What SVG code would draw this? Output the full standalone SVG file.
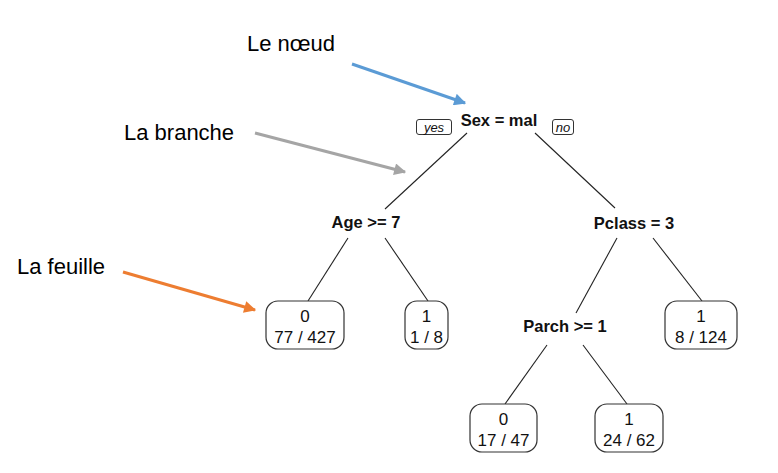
<svg xmlns="http://www.w3.org/2000/svg" width="778" height="473" viewBox="0 0 778 473">
<style>
.lbl{font-family:"Liberation Sans",Arial,sans-serif;font-size:22px;fill:#000}
.split{font-family:"Liberation Sans",Arial,sans-serif;font-size:16.5px;font-weight:bold;fill:#111;text-anchor:middle}
.leaf text{font-family:"Liberation Sans",Arial,sans-serif;font-size:17px;fill:#111;text-anchor:middle}
.leaf rect{fill:#fff;stroke:#333;stroke-width:1.2}
.yn rect{fill:#fff;stroke:#333;stroke-width:1}
.yn text{font-family:"Liberation Sans",Arial,sans-serif;font-size:13px;font-style:italic;fill:#111;text-anchor:middle}
.edge{stroke:#222;stroke-width:1.1;fill:none}
.ann{stroke-width:3;fill:none}
</style>
<defs>
<marker id="mBlue" viewBox="0 0 10 10" refX="9" refY="5" markerWidth="4.5" markerHeight="4" orient="auto"><path d="M0,0 L10,5 L0,10 z" fill="#5B9BD5"/></marker>
<marker id="mGray" viewBox="0 0 10 10" refX="9" refY="5" markerWidth="4.5" markerHeight="4" orient="auto"><path d="M0,0 L10,5 L0,10 z" fill="#A5A5A5"/></marker>
<marker id="mOrange" viewBox="0 0 10 10" refX="9" refY="5" markerWidth="4.5" markerHeight="4" orient="auto"><path d="M0,0 L10,5 L0,10 z" fill="#ED7D31"/></marker>
</defs>
<rect width="778" height="473" fill="#fff"/>

<g id="annotations">
<text class="lbl" x="247" y="51">Le nœud</text>
<text class="lbl" x="124" y="140">La branche</text>
<text class="lbl" x="17" y="274">La feuille</text>
<line class="ann" x1="352" y1="64" x2="465" y2="103" stroke="#5B9BD5" marker-end="url(#mBlue)"/>
<line class="ann" x1="255" y1="133" x2="405" y2="172" stroke="#A5A5A5" marker-end="url(#mGray)"/>
<line class="ann" x1="123" y1="272" x2="255" y2="310" stroke="#ED7D31" marker-end="url(#mOrange)"/>
</g>

<g id="connectors">
<line class="edge" x1="467" y1="133" x2="385" y2="209"/>
<line class="edge" x1="535" y1="133" x2="615" y2="208"/>
<line class="edge" x1="348" y1="238" x2="308" y2="301"/>
<line class="edge" x1="385" y1="238" x2="428" y2="301"/>
<line class="edge" x1="617" y1="238" x2="576" y2="313"/>
<line class="edge" x1="653" y1="238" x2="702" y2="301"/>
<line class="edge" x1="547" y1="345" x2="505" y2="404"/>
<line class="edge" x1="583" y1="345" x2="627" y2="404"/>
</g>

<g id="node-sex">
<text class="split" x="499" y="126">Sex = mal</text>
<g class="yn"><rect x="416.5" y="119.5" width="35" height="15" rx="2.5"/><text x="434" y="131.5">yes</text></g>
<g class="yn"><rect x="552.5" y="119.5" width="21" height="15" rx="2.5"/><text x="563" y="131.5">no</text></g>
</g>
<g id="node-age"><text class="split" x="366" y="228">Age &gt;= 7</text></g>
<g id="node-pclass"><text class="split" x="634" y="229">Pclass = 3</text></g>
<g id="node-parch"><text class="split" x="565" y="332">Parch &gt;= 1</text></g>

<g id="leaf-77-427" class="leaf"><rect x="266" y="301" width="78" height="48" rx="12"/><text x="305" y="322">0</text><text x="305" y="343">77 / 427</text></g>
<g id="leaf-1-8" class="leaf"><rect x="405" y="301" width="43" height="48" rx="12"/><text x="426.5" y="322">1</text><text x="426.5" y="343">1 / 8</text></g>
<g id="leaf-8-124" class="leaf"><rect x="665" y="301" width="72" height="48" rx="12"/><text x="701" y="322">1</text><text x="701" y="343">8 / 124</text></g>
<g id="leaf-17-47" class="leaf"><rect x="470" y="404" width="67" height="48" rx="12"/><text x="503.5" y="425">0</text><text x="503.5" y="446">17 / 47</text></g>
<g id="leaf-24-62" class="leaf"><rect x="595" y="404" width="68" height="48" rx="12"/><text x="629" y="425">1</text><text x="629" y="446">24 / 62</text></g>
</svg>
